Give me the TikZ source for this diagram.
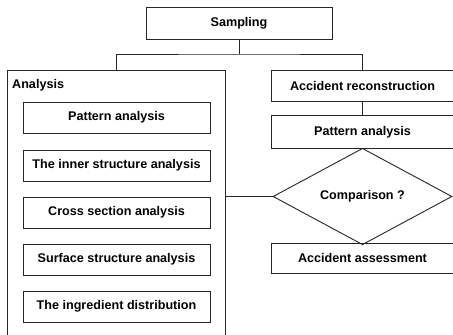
\documentclass[tikz,border=0pt]{standalone}
\usepackage{fontspec}
\setmainfont{Liberation Sans}
\usetikzlibrary{shapes.geometric}
\begin{document}
\begin{tikzpicture}[x=1pt,y=-1pt,
  every node/.style={font=\fontsize{12.6}{15}\selectfont\bfseries},
  ln/.style={draw=black!85,line width=0.9pt},
  boxnode/.style={ln,rectangle,inner sep=0pt,minimum height=31pt},
  leftbox/.style={boxnode,minimum width=187pt},
  rightbox/.style={boxnode,minimum width=183pt},
  decision/.style={ln,diamond,inner sep=0pt,minimum width=179pt,minimum height=61pt}]
\useasboundingbox[fill=white] (0,0) rectangle (453,335);
% top
\node[boxnode,minimum width=186pt,minimum height=32pt] (samp) at (239,23) {Sampling};
% analysis container (bottom runs off the page)
\node[ln,rectangle,inner sep=0pt,minimum width=218pt,minimum height=275pt] (analysis) at (116,207.5) {};
\node[anchor=base west,inner sep=0pt] (alabel) at (12,88.5) {Analysis};
\node[leftbox] (l1) at (116.5,117.5) {Pattern analysis};
\node[leftbox] (l2) at (116.5,165.5) {The inner structure analysis};
\node[leftbox] (l3) at (116.5,212.5) {Cross section analysis};
\node[leftbox] (l4) at (116.5,259.5) {Surface structure analysis};
\node[leftbox] (l5) at (116.5,306.5) {The ingredient distribution};
% right column
\node[rightbox] (recon) at (362.5,85.5) {Accident reconstruction};
\node[rightbox,minimum height=33pt] (pat) at (362.5,132) {Pattern analysis};
\node[decision] (cmp) at (362.5,196.5) {Comparison ?};
\node[rightbox,minimum height=30pt] (assess) at (362.5,258) {Accident assessment};
% connectors
\coordinate (split) at (239,54);
\draw[ln] (samp.south) -- (split);
\draw[ln] (analysis.north) |- (split) -| (recon.north);
\draw[ln] (recon.south) -- (pat.north);
\draw[ln] (pat.south) -- (cmp.north);
\draw[ln] (cmp.south) -- (assess.north);
\draw[ln] (cmp.west) -- (cmp.west -| analysis.east);
\end{tikzpicture}
\end{document}
